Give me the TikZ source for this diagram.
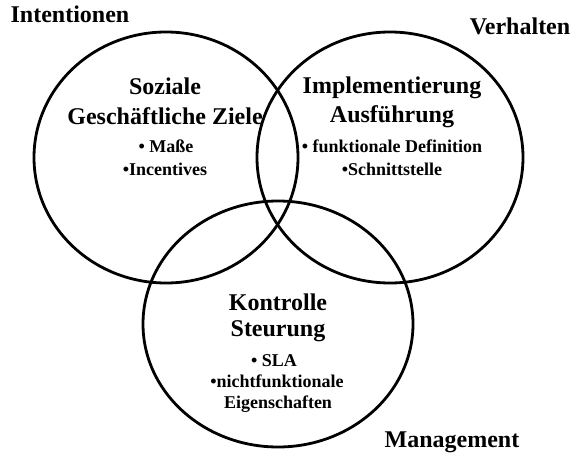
\documentclass[tikz,border=0pt]{standalone}
\usepackage{fontspec}
\setmainfont{Liberation Serif}
\usetikzlibrary{shapes.geometric}
\begin{document}
\begin{tikzpicture}[x=1pt,y=-1pt,
  ring/.style={draw=black,line width=2.8pt,ellipse,inner sep=0pt},
  corner/.style={font=\bfseries\fontsize{24}{24}\selectfont,inner sep=0pt,anchor=base},
  title/.style={font=\bfseries\fontsize{24}{24}\selectfont,inner sep=0pt,anchor=base},
  item/.style={font=\bfseries\fontsize{18}{18}\selectfont,inner sep=0pt,anchor=base}]
\useasboundingbox (0,0) rectangle (573,457);
% the three overlapping rings
\node[ring,minimum width=264pt,minimum height=251pt] (goals) at (166,157.5) {};
\node[ring,minimum width=266pt,minimum height=251pt] (impl) at (390,157.5) {};
\node[ring,minimum width=270pt,minimum height=246pt] (ctrl) at (278,324) {};
% corner captions
\node[corner] (intent) at (70,23) {Intentionen};
\node[corner] (behav) at (520,35) {Verhalten};
\node[corner] (mgmt) at (452,447) {Management};
% left ring
\node[title] (g1) at (165,95) {Soziale};
\node[title] (g2) at (165,125) {Geschäftliche Ziele};
\node[item] (g3) at (166,153) {• Maße};
\node[item] (g4) at (165,176) {•Incentives};
% right ring
\node[title] (i1) at (392,94) {Implementierung};
\node[title] (i2) at (392,123) {Ausführung};
\node[item] (i3) at (392,153) {• funktionale Definition};
\node[item] (i4) at (392,176) {•Schnittstelle};
% bottom ring
\node[title] (c1) at (278,310) {Kontrolle};
\node[title] (c2) at (278,336) {Steurung};
\node[item] (c3) at (274,366) {• SLA};
\node[item] (c4) at (277,387) {•nichtfunktionale};
\node[item] (c5) at (278,408) {Eigenschaften};
\end{tikzpicture}
\end{document}
